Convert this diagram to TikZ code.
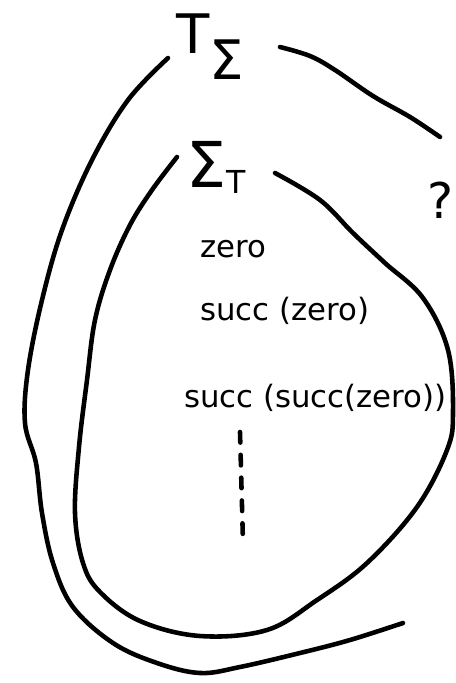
\documentclass[tikz,border=0pt]{standalone}
\usepackage{fontspec}
\usepackage{tikz}
\usetikzlibrary{positioning,calc}
\newfontfamily\handfont{DejaVu Sans}

\begin{document}
\begin{tikzpicture}[
  x=0.02cm, y=-0.02cm,
  pen/.style={line width=2.6pt, line cap=round, line join=round},
  term/.style={font=\fontsize{17.5}{21}\selectfont\handfont, inner sep=0pt, anchor=base west},
  setname/.style={inner sep=0pt, anchor=base west},
  dotline/.style={line width=2.6pt, line cap=round, dash pattern=on 6pt off 7pt}
]
  \useasboundingbox (0,0) rectangle (456,683);

  \node[setname, font=\fontsize{31}{34}\selectfont\handfont] (tsigma) at (176,53)
    {T\raisebox{-15pt}{Σ}};
  \node[setname, font=\fontsize{36}{40}\selectfont\handfont] (sigmat) at (186,187)
    {Σ\raisebox{-3.5pt}{\fontsize{18}{20}\selectfont T}};
  \node[setname, font=\fontsize{28}{32}\selectfont\handfont] (question) at (427,218) {?};

  \node[term] (zero) at (200,257) {zero};
  \node[term] (succone) at (200,320) {succ (zero)};
  \node[term] (succtwo) at (184,407) {succ (succ(zero))};

  \coordinate (dotstop) at (240,432);
  \coordinate (dotsbot) at (243,543);
  \draw[dotline] (dotstop) -- (dotsbot);

  \draw[pen] plot[smooth, tension=0.6] coordinates {
    (168,58) (128,100) (92,160) (62,230) (42,300) (28,370) (25,423) (36,463)
    (42,513) (53,563) (73,607) (113,643) (157,663) (200,673) (240,667)
    (300,653) (350,640) (403,623)};
  \draw[pen] plot[smooth, tension=0.6] coordinates {
    (280,47) (310,56) (335,70) (373,96) (410,117) (440,137)};

  \draw[pen] plot[smooth, tension=0.6] coordinates {
    (275,173) (320,200) (353,233) (385,263) (423,298) (448,350) (453,413)
    (447,450) (417,507) (367,563) (317,600) (267,630) (200,636) (140,621)
    (100,592) (83,563) (75,513) (79,447) (87,380) (95,320) (110,270)
    (130,225) (152,190) (177,157)};
\end{tikzpicture}
\end{document}
